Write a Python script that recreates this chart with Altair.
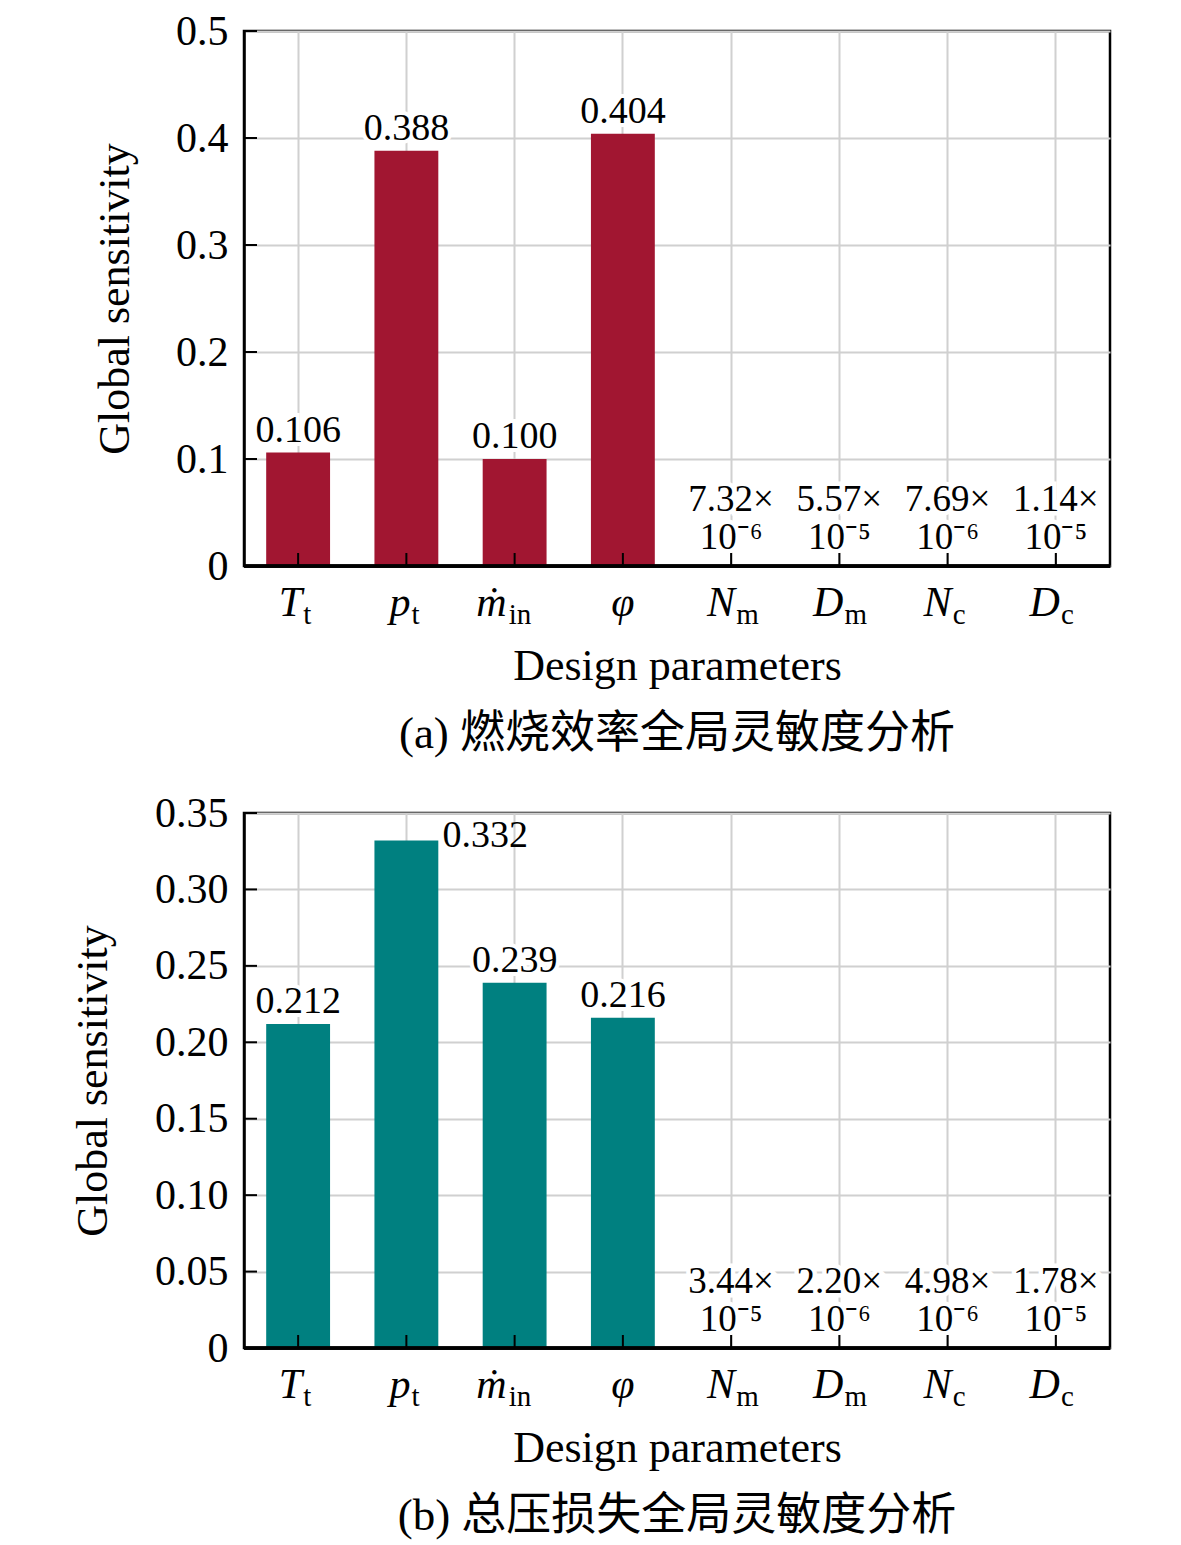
import math
import altair as alt
import pandas as pd

# ---------------- data ----------------
keys = ["Tt", "pt", "min", "phi", "Nm", "Dm", "Nc", "Dc"]
symbols = ["T", "p", "ṁ", "φ", "N", "D", "N", "D"]
subscripts = ["t", "t", "in", "", "m", "m", "c", "c"]

eff_values = [0.106, 0.388, 0.100, 0.404, 7.32e-6, 5.57e-5, 7.69e-6, 1.14e-5]
loss_values = [0.212, 0.332, 0.239, 0.216, 3.44e-5, 2.20e-6, 4.98e-6, 1.78e-5]

eff_ticks = [0, 0.1, 0.2, 0.3, 0.4, 0.5]
loss_ticks = [0, 0.05, 0.10, 0.15, 0.20, 0.25, 0.30, 0.35]

eff_caption = "(a) 燃烧效率全局灵敏度分析"
loss_caption = "(b) 总压损失全局灵敏度分析"

eff_right_labels = []
loss_right_labels = ["pt"]

SERIF = "Liberation Serif"
CAPFONT = "Liberation Serif, Noto Sans CJK SC"
W, H = 866, 535

SUP = str.maketrans("0123456789-", "⁰¹²³⁴⁵⁶⁷⁸⁹⁻")


def label_of(v):
    if v >= 0.001:
        return f"{v:.3f}"
    e = int(math.floor(math.log10(v)))
    m = v / 10 ** e
    return f"{m:.2f}×\n10" + str(e).translate(SUP)


def panel(values, ticks, ymax, fmt, color, caption, right_keys, ypad):
    df = pd.DataFrame({
        "key": keys, "sym": symbols, "sub": subscripts, "value": values,
        "label": [label_of(v) for v in values],
    })
    df["big"] = df["value"] >= 0.001
    df["right"] = df["key"].isin(right_keys)
    df["grp"] = ["none" if s == "" else ("long" if len(s) > 1 else "one") for s in subscripts]

    xenc = alt.X("key:N", sort=keys,
                 scale=alt.Scale(paddingInner=0.41, paddingOuter=0.205),
                 axis=alt.Axis(labels=False, ticks=False, grid=True, bandPosition=0.5,
                               title="Design parameters", titlePadding=78, zindex=0))
    yenc = alt.Y("value:Q",
                 scale=alt.Scale(domain=[0, ymax], nice=False, zero=True),
                 axis=alt.Axis(values=ticks, ticks=False, grid=True, labelPadding=16,
                               labelExpr=f"datum.value == 0 ? '0' : format(datum.value, '{fmt}')",
                               title="Global sensitivity", titlePadding=ypad, zindex=0))
    xk = alt.X("key:N", sort=keys)
    yv = alt.Y("value:Q")

    base = alt.Chart(df)
    bars = base.mark_bar(color=color).encode(x=xenc, y=yenc)

    big = base.transform_filter("datum.big && !datum.right")
    halo_big = big.mark_text(font=SERIF, fontSize=38, baseline="alphabetic", dy=-11,
                             stroke="white", strokeWidth=8, fill="white").encode(x=xk, y=yv, text="label:N")
    txt_big = big.mark_text(font=SERIF, fontSize=38, baseline="alphabetic", dy=-11,
                            color="black").encode(x=xk, y=yv, text="label:N")

    rgt = base.transform_filter("datum.big && datum.right")
    txt_right = rgt.mark_text(font=SERIF, fontSize=38, baseline="alphabetic", align="left",
                              dx=36, dy=6, color="black").encode(x=xk, y=yv, text="label:N")

    small = base.transform_filter("!datum.big")
    halo_small = small.mark_text(font=SERIF, fontSize=37, baseline="alphabetic", dy=-55, lineBreak="\n",
                                 lineHeight=38, stroke="white", strokeWidth=9,
                                 fill="white").encode(x=xk, y=yv, text="label:N")
    txt_small = small.mark_text(font=SERIF, fontSize=37, baseline="alphabetic", dy=-55, lineBreak="\n",
                                lineHeight=38, color="black").encode(x=xk, y=yv, text="label:N")

    # x axis line on top of bars + inward ticks
    xline = base.mark_rule(color="black", strokeWidth=2.5).encode(
        y=alt.value(H), x=alt.value(0), x2=alt.value(W))
    xt = base.mark_rule(color="black", strokeWidth=2).encode(
        x=xk, y=alt.value(H), y2=alt.value(H - 13))
    tdf = pd.DataFrame({"value": ticks})
    yt = alt.Chart(tdf).mark_rule(color="black", strokeWidth=2).encode(
        y=yv, x=alt.value(0), x2=alt.value(13))

    # category labels: italic symbol + upright subscript
    def sym_layer(grp, dx, align):
        return base.transform_filter(f"datum.grp == '{grp}'").mark_text(
            font=SERIF, fontSize=42, fontStyle="italic", align=align, baseline="alphabetic",
            dx=dx, color="black").encode(x=xk, y=alt.value(H + 50), text="sym:N")

    def sub_layer(grp, dx):
        return base.transform_filter(f"datum.grp == '{grp}'").mark_text(
            font=SERIF, fontSize=29, align="left", baseline="alphabetic",
            dx=dx, color="black").encode(x=xk, y=alt.value(H + 58), text="sub:N")

    labs = [sym_layer("one", 4, "right"), sub_layer("one", 5),
            sym_layer("long", -8, "right"), sub_layer("long", -6),
            sym_layer("none", 0, "center")]

    return alt.layer(bars, halo_big, txt_big, txt_right, halo_small, txt_small,
                     xline, xt, yt, *labs).properties(
        width=W, height=H,
        title=alt.TitleParams(text=caption, orient="bottom", anchor="middle", frame="group",
                              offset=24, font=CAPFONT, fontSize=45, fontWeight="normal", color="black"),
    )


top = panel(eff_values, eff_ticks, 0.5, ".1f", "#A11631", eff_caption, eff_right_labels, 38)
bottom = panel(loss_values, loss_ticks, 0.35, ".2f", "#008080", loss_caption, loss_right_labels, 39)

chart = alt.vconcat(top, bottom, spacing=31).properties(
    padding={"left": 62, "top": 0, "right": 5, "bottom": 5}
).configure_view(
    stroke="black", strokeWidth=2.5
).configure_axis(
    domainColor="black", domainWidth=2.5, gridColor="#d0d0d0", gridWidth=2,
    labelFont=SERIF, labelFontSize=42, labelColor="black",
    titleFont=SERIF, titleFontSize=44, titleFontWeight="normal", titleColor="black",
)

chart.save("out.html", embed_options={"renderer": "svg", "actions": False})
